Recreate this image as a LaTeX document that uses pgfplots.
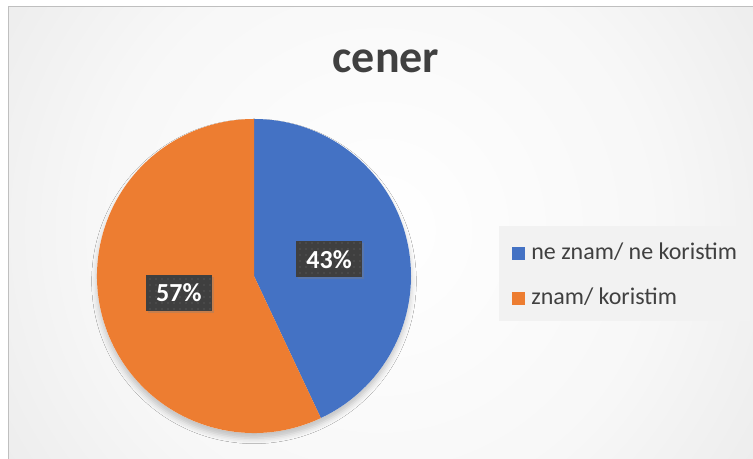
\documentclass[border=0pt]{standalone}
\usepackage{fontspec}
\setmainfont{Carlito}
\usepackage{pgfplots}
\pgfplotsset{compat=1.18}
\usepackage{pgfplotstable}
\usetikzlibrary{patterns.meta,shadows,shadows.blur}

\definecolor{pblue}{HTML}{4472C4}
\definecolor{porange}{HTML}{ED7D31}
\definecolor{txt}{HTML}{404040}
\definecolor{boxc}{HTML}{3F3F3F}
\definecolor{dotc}{HTML}{555555}

\pgfdeclareradialshading{bgshade}{\pgfpoint{0bp}{0bp}}{color(0bp)=(white); color(16bp)=(white!97!black); color(27bp)=(white!92!black); color(40bp)=(white!82!black); color(50bp)=(white!75!black)}

\pgfplotstableread{
value
43
57
}\piedata

\begin{document}%
\begin{tikzpicture}
\pgfplotstablegetelem{0}{value}\of\piedata \edef\va{\pgfplotsretval}
\pgfplotstablegetelem{1}{value}\of\piedata \edef\vb{\pgfplotsretval}
\pgfmathsetmacro\angA{90-3.6*\va}
\pgfmathsetmacro\midA{90-1.8*\va}
\pgfmathsetmacro\midB{\angA-1.8*\vb}
\begin{axis}[
  x=0.75pt, y=0.75pt,
  xmin=0, xmax=753, ymin=0, ymax=459,
  hide axis, clip=false,
  legend image code/.code={\fill[#1, draw=none] (0pt,-0.375pt) rectangle (9.75pt,9.375pt);},
  legend style={at={(axis cs:499,138)}, anchor=south west, draw=none, fill=gray!10,
    font=\fontsize{18}{21}\selectfont, text=txt,
    inner xsep=9.75pt, inner ysep=10pt, row sep=16.25pt,
    nodes={inner sep=0pt, text height=15.5pt, text depth=2pt, anchor=base west},
    /tikz/every odd column/.append style={column sep=4.5pt}},
]
\coordinate (BL) at (axis cs:0,0);
\coordinate (TR) at (axis cs:753,459);
\begin{scope}
\clip (axis cs:8,0) rectangle (axis cs:753,452);
\shade[shading=bgshade] (axis cs:380,229) circle[radius=330pt];
\end{scope}
\draw[gray!50, line width=0.75pt] (axis cs:8,-2) -- (axis cs:8,452) -- (axis cs:755,452);

\fill[white, blur shadow={shadow xshift=0pt, shadow yshift=-4pt, shadow blur radius=4pt, shadow opacity=22}] (axis cs:254,183) circle[radius=117.75pt];
\fill[pblue] (axis cs:254,183) -- ++(90:117.75pt) arc[start angle=90, end angle=\angA, radius=117.75pt] -- cycle;
\fill[porange] (axis cs:254,183) -- ++(\angA:117.75pt) arc[start angle=\angA, end angle=-270, radius=117.75pt] -- cycle;

\node[fill=boxc, postaction={pattern={Dots[distance=4.5pt, radius=0.7pt]}, pattern color=dotc},
  drop shadow={opacity=0.35, shadow xshift=1.5pt, shadow yshift=-1.5pt},
  text=white, font=\bfseries\fontsize{19.5}{22}\selectfont,
  minimum width=49.5pt, minimum height=27pt, inner sep=0pt]
  at ($(axis cs:254,183)+(\midA:57.75pt)$) {43\%};
\node[fill=boxc, postaction={pattern={Dots[distance=4.5pt, radius=0.7pt]}, pattern color=dotc},
  drop shadow={opacity=0.35, shadow xshift=1.5pt, shadow yshift=-1.5pt},
  text=white, font=\bfseries\fontsize{19.5}{22}\selectfont,
  minimum width=49.5pt, minimum height=27pt, inner sep=0pt]
  at ($(axis cs:254,183)+(\midB:57.75pt)$) {57\%};

\node[anchor=base, text=txt, font=\bfseries\fontsize{34.5}{40}\selectfont] at (axis cs:386,386) {cener};

\addlegendimage{fill=pblue}
\addlegendentry{ne znam/ ne koristim}
\addlegendimage{fill=porange}
\addlegendentry{znam/ koristim}
\end{axis}
\pgfresetboundingbox
\useasboundingbox (BL) rectangle (TR);
\end{tikzpicture}%
\end{document}
